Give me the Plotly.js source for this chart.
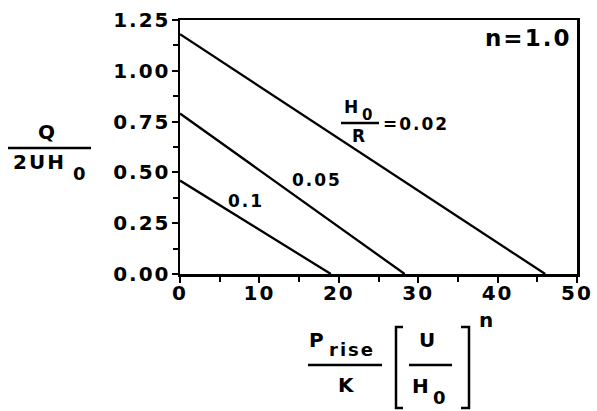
<!DOCTYPE html>
<html>
<head>
<meta charset="utf-8">
<script src="https://cdn.plot.ly/plotly-3.0.1.min.js"></script>
<style>
  html, body { margin: 0; padding: 0; background: #fff; }
  #chart { width: 597px; height: 411px; }
  #chart svg text { letter-spacing: 2px; }
</style>
</head>
<body>
<div id="chart"></div>
<script>
// Flow rate vs. pressure rise for three gap ratios H0/R (n = 1.0)
const ratioLabels = ["0.1", "0.05", "0.02"];
const pressureAtZeroFlow = [19.0, 28.3, 46.0];   // x-intercepts
const flowAtZeroPressure = [0.46, 0.79, 1.18];   // y-intercepts

const xTicks = [0, 10, 20, 30, 40, 50];
const yTicks = [0, 0.25, 0.5, 0.75, 1.0, 1.25];

const FONT = "DejaVu Sans, sans-serif";
const W = 597, H = 411;
const M = { l: 180, r: 20, t: 20, b: 137 };
const PW = W - M.l - M.r, PH = H - M.t - M.b;
// pixel -> paper helpers for the decorations around the axes
const px = v => (v - M.l) / PW;
const py = v => (H - M.b - v) / PH;

const traces = ratioLabels.map((lab, i) => ({
  type: "scatter",
  mode: "lines",
  x: [0, pressureAtZeroFlow[i]],
  y: [flowAtZeroPressure[i], 0],
  line: { color: "#000", width: 2.3 },
  hoverinfo: "skip",
  showlegend: false
}));

function txt(x, y, text, size, extra) {
  return Object.assign({
    xref: "paper", yref: "paper", x: px(x), y: py(y),
    text: text, showarrow: false,
    xanchor: "center", yanchor: "middle",
    font: { family: FONT, size: size, color: "#000", weight: 700 }
  }, extra || {});
}

const annotations = [
  txt(528, 38, "n=1.0", 23),
  // curve labels
  txt(246, 201, ratioLabels[0], 17),
  txt(317, 180, ratioLabels[1], 17),
  txt(352, 107, "H", 17),
  txt(368, 115, "0", 15),
  txt(359, 136, "R", 17),
  txt(416, 124, "=" + ratioLabels[2], 17),
  // y-axis title Q / 2UH0
  txt(47, 132, "Q", 20),
  txt(39, 162, "2UH", 20),
  txt(80, 173, "0", 18),
  // x-axis title Prise/K [U/H0]^n
  txt(317, 340, "P", 20),
  txt(352, 349, "rise", 18),
  txt(347, 385, "K", 20),
  txt(428, 340, "U", 20),
  txt(421, 386, "H", 20),
  txt(440, 397, "0", 18),
  txt(487, 320, "n", 20)
];

const bar = (x0, x1, y) => ({ type: "line", xref: "paper", yref: "paper",
  x0: px(x0), x1: px(x1), y0: py(y), y1: py(y), line: { color: "#000", width: 2.5 } });

const shapes = [
  // fraction bars
  bar(341, 379, 123),
  bar(8, 91, 148),
  bar(308, 382, 365),
  bar(409, 452, 365),
  // brackets
  { type: "path", xref: "paper", yref: "paper",
    path: `M ${px(403)} ${py(327)} L ${px(396)} ${py(327)} L ${px(396)} ${py(408)} L ${px(403)} ${py(408)}`,
    line: { color: "#000", width: 2.5 } },
  { type: "path", xref: "paper", yref: "paper",
    path: `M ${px(461)} ${py(327)} L ${px(469)} ${py(327)} L ${px(469)} ${py(408)} L ${px(461)} ${py(408)}`,
    line: { color: "#000", width: 2.5 } }
];

const tickFont = { family: FONT, size: 20, color: "#000", weight: 700 };

const layout = {
  width: W, height: H,
  margin: M,
  paper_bgcolor: "#fff",
  plot_bgcolor: "#fff",
  font: { family: FONT, size: 20, color: "#000" },
  showlegend: false,
  xaxis: {
    range: [0, 50],
    tickvals: xTicks,
    ticktext: xTicks.map(String),
    ticks: "outside", ticklen: 6, tickwidth: 2, tickcolor: "#000",
    minor: { dtick: 5, ticks: "outside", ticklen: 5, tickwidth: 2, tickcolor: "#000" },
    ticklabelstandoff: -7,
    showgrid: false, zeroline: false,
    showline: true, linecolor: "#000", linewidth: 2.5, mirror: true,
    tickfont: tickFont
  },
  yaxis: {
    range: [0, 1.25],
    tickvals: yTicks,
    ticktext: yTicks.map(v => v.toFixed(2)),
    ticks: "outside", ticklen: 6, tickwidth: 2, tickcolor: "#000",
    minor: { dtick: 0.125, tick0: 0, ticks: "outside", ticklen: 5, tickwidth: 2, tickcolor: "#000" },
    ticklabelstandoff: -3,
    showgrid: false, zeroline: false,
    showline: true, linecolor: "#000", linewidth: 2.5, mirror: true,
    tickfont: tickFont
  },
  annotations: annotations,
  shapes: shapes
};

Plotly.newPlot("chart", traces, layout, { displayModeBar: false, staticPlot: true });
</script>
</body>
</html>
